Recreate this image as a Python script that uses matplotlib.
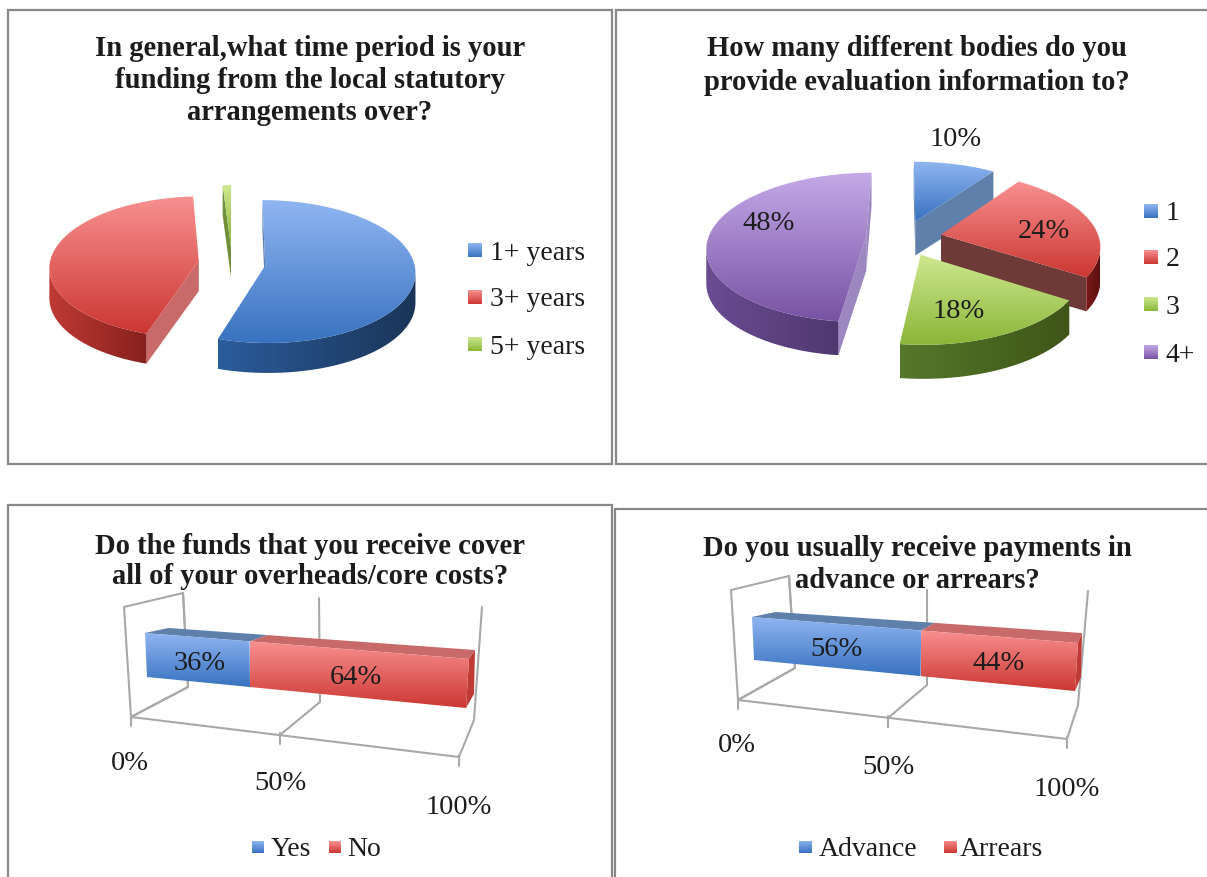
import numpy as np
import matplotlib
matplotlib.use('Agg')
import matplotlib.pyplot as plt
from matplotlib.colors import LinearSegmentedColormap
from matplotlib.patches import Polygon, Rectangle

WIDTH, HEIGHT = 1207, 877

# chart values
TERM_LABELS = ['1+ years', '3+ years', '5+ years']
TERM_VALUES = [55, 44, 1]
BODIES_LABELS = ['1', '2', '3', '4+']
BODIES_VALUES = [10, 24, 18, 48]
COVER_LABELS = ['Yes', 'No']
COVER_VALUES = [36, 64]
PAYMENT_LABELS = ['Advance', 'Arrears']
PAYMENT_VALUES = [56, 44]
AXIS_TICKS = [0, 50, 100]

# slice and bar colours: top of gradient, bottom of gradient, rim left, rim right, inner wall
BLUE = ('#90b6f2', '#3872c0', '#2b5c9c', '#1a3558', '#5f80aa')
RED = ('#f89090', '#cc3732', '#bf3a35', '#87201d', '#c96a6a')
GREEN = ('#cfe890', '#8ab638', '#55782a', '#3f5518', '#6f8f3a')
PURPLE = ('#c4a9e8', '#7853a4', '#6a4c92', '#4f3870', '#9d87c0')
RED_DARK_WALL = ('#f89090', '#cc3732', '#7c1a1a', '#5c0f0f', '#6e3a38')

SERIF = 'Liberation Serif'
TEXT_COLOR = '#1c1c1c'
LABEL_SIZE = 20.5


def gradient_fill(ax, poly_xy, c1, c2, horizontal=False, zorder=2):
    pts = np.asarray(poly_xy)
    x0, y0 = pts.min(axis=0)
    x1, y1 = pts.max(axis=0)
    cmap = LinearSegmentedColormap.from_list('g', [c1, c2])
    ramp = np.linspace(0, 1, 128)
    ramp = ramp.reshape(1, -1) if horizontal else ramp.reshape(-1, 1)
    im = ax.imshow(ramp, cmap=cmap, extent=(x0, x1, y1, y0), aspect='auto',
                   origin='upper', interpolation='bilinear', zorder=zorder)
    clip = Polygon(pts, closed=True, transform=ax.transData, facecolor='none', edgecolor='none')
    ax.add_patch(clip)
    im.set_clip_path(clip)


def draw_pie(ax, values, colors, cx, cy, rx, ry, persp, depth, explode):
    def project(u, v):
        k = 1 + persp * v
        return np.column_stack([cx + rx * u * k, cy + ry * v * k])

    total = float(sum(values))
    edges = np.cumsum([0] + list(values)) / total * 2 * np.pi
    slices = []
    for i, color in enumerate(colors):
        a0, a1 = edges[i], edges[i + 1]
        mid = (a0 + a1) / 2
        au, av = explode * np.sin(mid), -explode * np.cos(mid)
        theta = np.linspace(a0, a1, max(4, int((a1 - a0) * 40)))
        arc = project(au + np.sin(theta), av - np.cos(theta))
        apex = project(np.array([au]), np.array([av]))
        slices.append((color, apex, arc))

    # back slices first so the front ones cover them
    slices.sort(key=lambda s: s[2][:, 1].mean())
    drop = np.array([0, depth])
    for color, apex, arc in slices:
        for p, q in ((apex[0], arc[0]), (arc[-1], apex[0])):
            if q[0] < p[0]:
                ax.add_patch(Polygon([p, q, q + drop, p + drop], closed=True,
                                     facecolor=color[4], edgecolor='none', zorder=2))
        moving_left = np.diff(arc[:, 0]) < 0
        front = arc[np.r_[moving_left, False] | np.r_[False, moving_left]]
        if len(front) > 1:
            rim = np.vstack([front, front[::-1] + drop])
            gradient_fill(ax, rim, color[2], color[3], horizontal=True)
        gradient_fill(ax, np.vstack([apex, arc]), color[0], color[1])


def draw_bar_panel(ax, values, ticks, geom, colors):
    def warp(t):
        t = np.asarray(t, dtype=float) / 100
        return t / (t + (1 - t) * 1.18)

    def along(left, right, t):
        left, right = np.asarray(left, float), np.asarray(right, float)
        return left + (right - left) * warp(t)

    grid = dict(color='#a8a8a8', lw=1.5, zorder=1, solid_capstyle='round')
    wall = np.array(geom['wall'])
    ax.plot(wall[:, 0], wall[:, 1], **grid)
    for floor, back, top in zip(geom['floor'], geom['back'], geom['top']):
        ax.plot([floor[0], floor[0]], [floor[1] - 2, floor[1] + 9], **grid)
        ax.plot([floor[0], back[0], top[0]], [floor[1], back[1], top[1]], **grid)
    floor = np.array(geom['floor'])
    ax.plot(floor[[0, -1], 0], floor[[0, -1], 1], **grid)

    edges = np.cumsum([0] + list(values))
    ftl, ftr = geom['front_top']
    fbl, fbr = geom['front_bottom']
    btl, btr = geom['back_top']
    ax.add_patch(Polygon([ftl, btl, (ftl[0] + 6, ftl[1] + 4)], closed=True,
                         facecolor='#c8c8c8', edgecolor='none', zorder=2))
    for i, color in enumerate(colors):
        t0, t1 = edges[i], edges[i + 1]
        top_face = [along(ftl, ftr, t0), along(btl, btr, t0), along(btl, btr, t1), along(ftl, ftr, t1)]
        ax.add_patch(Polygon(top_face, closed=True, facecolor=color[4], edgecolor='none', zorder=2))
        front = [along(ftl, ftr, t0), along(ftl, ftr, t1), along(fbl, fbr, t1), along(fbl, fbr, t0)]
        gradient_fill(ax, front, color[0], color[1], zorder=3)
        cx_, cy_ = (along(ftl, ftr, (t0 + t1) / 2) + along(fbl, fbr, (t0 + t1) / 2)) / 2
        ax.text(cx_ + 3, cy_ + 4, f'{values[i]}%', fontsize=LABEL_SIZE, family=SERIF, color=TEXT_COLOR,
                ha='center', va='center', zorder=5)
    end = colors[-1]
    ax.add_patch(Polygon([ftr, btr, (btr[0] - 1, fbr[1] - 14), fbr], closed=True,
                         facecolor=end[2], edgecolor='none', zorder=2))

    for tick, xy in zip(ticks, geom['tick_text']):
        ax.text(xy[0], xy[1], f'{tick}%', fontsize=LABEL_SIZE, family=SERIF, color=TEXT_COLOR,
                ha='center', va='center', zorder=5)


def legend_item(ax, x, y, size, label, color, text_x):
    box = [(x, y - size / 2), (x + size, y - size / 2), (x + size, y + size / 2), (x, y + size / 2)]
    gradient_fill(ax, box, color[0], color[1], zorder=4)
    ax.text(text_x, y + 3, label, fontsize=20, family=SERIF, color=TEXT_COLOR,
            ha='left', va='center', zorder=5)


def title(ax, x, ys, lines):
    for y, line in zip(ys, lines):
        ax.text(x, y, line, fontsize=20.6, family=SERIF, fontweight='bold', color=TEXT_COLOR,
                ha='center', va='center', zorder=6)


def main():
    fig = plt.figure(figsize=(WIDTH / 100, HEIGHT / 100), dpi=100, facecolor='white')
    ax = fig.add_axes([0, 0, 1, 1])
    ax.axis('off')

    # panel frames
    for x0, y0, x1, y1 in [(8, 10, 612, 464), (616, 10, 1210, 464), (8, 505, 612, 880), (615, 509, 1210, 880)]:
        ax.add_patch(Rectangle((x0, y0), x1 - x0, y1 - y0, facecolor='white',
                               edgecolor='#888888', lw=1.6, zorder=0))

    title(ax, 310, [49, 81, 113], ['In general,what time period is your',
                                   'funding from the local statutory',
                                   'arrangements over?'])
    draw_pie(ax, TERM_VALUES, [BLUE, RED, GREEN], 232, 263, 149, 71, 0.085, 30, 0.225)
    for y, label, color in zip([250, 297, 344], TERM_LABELS, [BLUE, RED, GREEN]):
        legend_item(ax, 468, y, 14, label, color, 490)

    title(ax, 917, [49, 82], ['How many different bodies do you',
                              'provide evaluation information to?'])
    draw_pie(ax, BODIES_VALUES, [BLUE, RED_DARK_WALL, GREEN, PURPLE], 904, 238, 158, 75, 0.14, 34, 0.24)
    for xy, value in zip([(956, 140), (1044, 232), (959, 312), (769, 224)], BODIES_VALUES):
        ax.text(xy[0], xy[1], f'{value}%', fontsize=LABEL_SIZE, family=SERIF, color=TEXT_COLOR,
                ha='center', va='center', zorder=5)
    for y, label, color in zip([211, 257, 304, 352], BODIES_LABELS, [BLUE, RED, GREEN, PURPLE]):
        legend_item(ax, 1144, y, 14, label, color, 1166)

    title(ax, 310, [546, 577], ['Do the funds that you receive cover',
                                'all of your overheads/core costs?'])
    draw_bar_panel(ax, COVER_VALUES, AXIS_TICKS, {
        'wall': [(131, 717), (124, 607), (183, 593), (188, 687), (131, 717)],
        'floor': [(131, 717), (280, 735), (459, 757)],
        'back': [(188, 687), (320, 702), (474, 720)],
        'top': [(183, 593), (319, 598), (482, 607)],
        'front_top': [(145, 633), (469, 659)],
        'front_bottom': [(147, 677), (466, 708)],
        'back_top': [(169, 628), (475, 650)],
        'tick_text': [(130, 763), (280, 784), (459, 808)],
    }, [BLUE, RED])
    legend_item(ax, 252, 847, 12, COVER_LABELS[0], BLUE, 271)
    legend_item(ax, 329, 847, 12, COVER_LABELS[1], RED, 347)

    title(ax, 917, [548, 580], ['Do you usually receive payments in',
                                'advance or arrears?'])
    draw_bar_panel(ax, PAYMENT_VALUES, AXIS_TICKS, {
        'wall': [(738, 700), (731, 590), (789, 576), (795, 668), (738, 700)],
        'floor': [(738, 700), (888, 718), (1067, 739)],
        'back': [(795, 668), (927, 685), (1078, 705)],
        'top': [(789, 576), (927, 590), (1088, 591)],
        'front_top': [(752, 617), (1078, 643)],
        'front_bottom': [(754, 660), (1075, 691)],
        'back_top': [(776, 612), (1082, 633)],
        'tick_text': [(737, 746), (888, 768), (1067, 790)],
    }, [BLUE, RED])
    legend_item(ax, 799, 847, 13, PAYMENT_LABELS[0], BLUE, 819)
    legend_item(ax, 944, 847, 13, PAYMENT_LABELS[1], RED, 960)

    ax.set_xlim(0, WIDTH)
    ax.set_ylim(HEIGHT, 0)
    fig.savefig('out.png', dpi=100, facecolor='white')
    plt.close(fig)


if __name__ == '__main__':
    main()
